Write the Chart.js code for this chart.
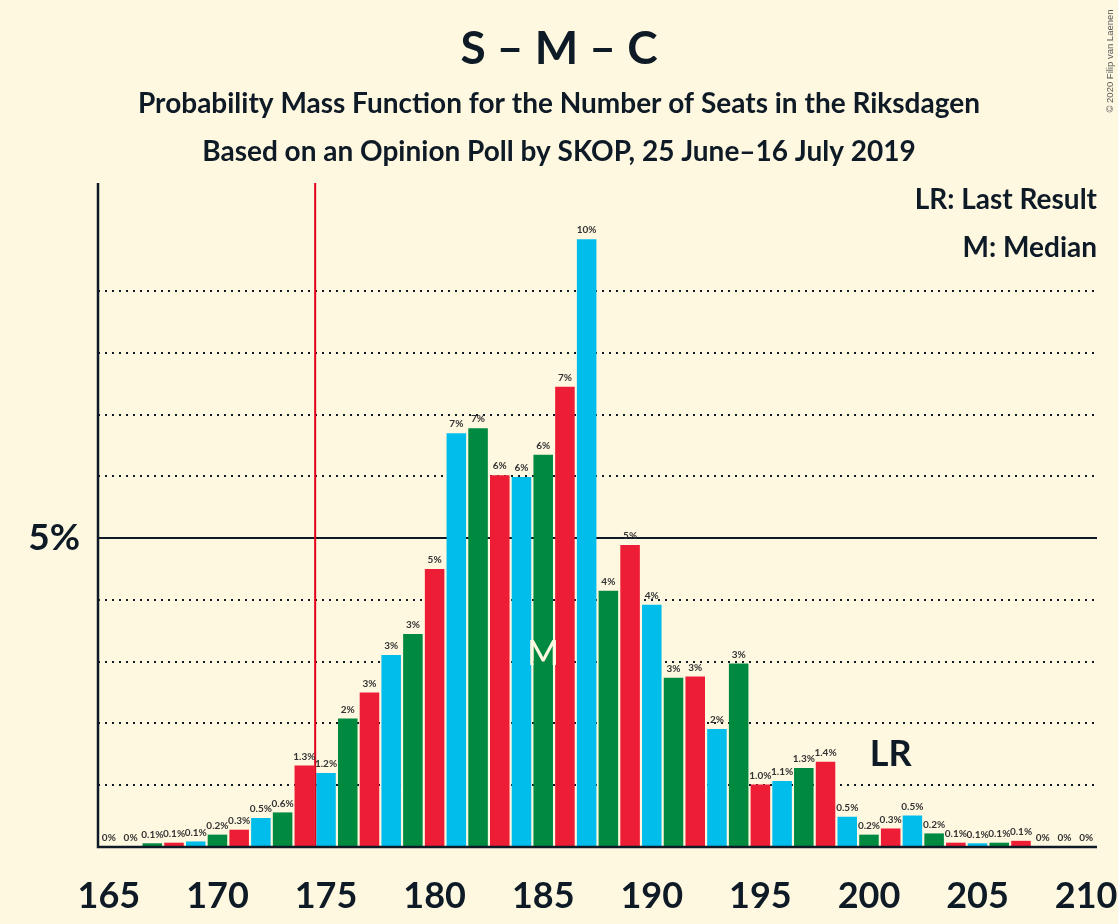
<!DOCTYPE html>
<html>
<head>
<meta charset="utf-8">
<title>S – M – C</title>
<script src="https://cdn.jsdelivr.net/npm/chart.js@4.4.0/dist/chart.umd.min.js"></script>
<style>
  html, body { margin: 0; padding: 0; background: #fff8e1; }
  #wrap { width: 1118px; height: 924px; position: relative; }
</style>
</head>
<body>
<div id="wrap"><canvas id="chart"></canvas></div>
<script>
// Seats and probability (%)
const seats = [
  165, 166, 167, 168, 169, 170, 171, 172, 173, 174,
  175, 176, 177, 178, 179, 180, 181, 182, 183, 184,
  185, 186, 187, 188, 189, 190, 191, 192, 193, 194,
  195, 196, 197, 198, 199, 200, 201, 202, 203, 204,
  205, 206, 207, 208, 209, 210
];
const probabilities = [
  0, 0, 0.06, 0.07, 0.09, 0.2, 0.28, 0.47, 0.56, 1.32,
  1.2, 2.08, 2.5, 3.11, 3.45, 4.5, 6.7, 6.78, 6.02, 5.99,
  6.35, 7.45, 9.84, 4.15, 4.89, 3.92, 2.74, 2.76, 1.91, 2.97,
  1.01, 1.07, 1.28, 1.38, 0.49, 0.2, 0.3, 0.51, 0.22, 0.07,
  0.06, 0.07, 0.1, 0, 0, 0
];
const xTickSeats = [165, 170, 175, 180, 185, 190, 195, 200, 205, 210];
const yTickValues = [5];
const dottedGridValues = [1, 2, 3, 4, 6, 7, 8, 9];
const majorityAfterSeat = 174;   // red line between 174 and 175
const medianSeat = 185;
const lastResultSeat = 201;

const titleText = 'S – M – C';
const subtitleLines = [
  'Probability Mass Function for the Number of Seats in the Riksdagen',
  'Based on an Opinion Poll by SKOP, 25 June–16 July 2019'
];
const legendLines = ['LR: Last Result', 'M: Median'];
const copyrightText = '© 2020 Filip van Laenen';

const INK = '#0e1a25';
const BG = '#fff8e1';
// colour by seat: S red, M blue, C green cycling
const partyColours = ['#ee1d36', '#00bdec', '#008a40'];

function barColour(seat) {
  return partyColours[seat % 3];
}

function formatPct(v) {
  if (v === 0) return '0%';
  if (v < 1.5) return v.toFixed(1) + '%';
  return Math.round(v) + '%';
}

const decorations = {
  id: 'decorations',
  beforeDraw(chart) {
    const ctx = chart.ctx;
    ctx.save();
    ctx.fillStyle = BG;
    ctx.fillRect(0, 0, chart.width, chart.height);
    ctx.restore();
  },
  beforeDatasetsDraw(chart) {
    const { ctx, chartArea, scales } = chart;
    ctx.save();
    // dotted grid lines
    ctx.strokeStyle = INK;
    ctx.lineWidth = 2;
    ctx.setLineDash([2, 5]);
    dottedGridValues.forEach(v => {
      const y = Math.round(scales.y.getPixelForValue(v));
      ctx.beginPath();
      ctx.moveTo(chartArea.left, y);
      ctx.lineTo(chartArea.right, y);
      ctx.stroke();
    });
    // solid line at 5%
    ctx.setLineDash([]);
    yTickValues.forEach(v => {
      const y = Math.round(scales.y.getPixelForValue(v));
      ctx.beginPath();
      ctx.moveTo(chartArea.left, y);
      ctx.lineTo(chartArea.right, y);
      ctx.stroke();
    });
    ctx.restore();
  },
  afterDatasetsDraw(chart) {
    const { ctx, chartArea, scales } = chart;
    const meta = chart.getDatasetMeta(0);
    ctx.save();

    // majority line
    const idx = seats.indexOf(majorityAfterSeat);
    const xm = scales.x.getPixelForValue(idx + 0.5);
    ctx.strokeStyle = '#e0001b';
    ctx.lineWidth = 2;
    ctx.beginPath();
    ctx.moveTo(xm, chartArea.top);
    ctx.lineTo(xm, chartArea.bottom);
    ctx.stroke();

    // axes
    ctx.strokeStyle = INK;
    ctx.lineWidth = 2.5;
    ctx.beginPath();
    ctx.moveTo(chartArea.left, chartArea.top);
    ctx.lineTo(chartArea.left, chartArea.bottom);
    ctx.lineTo(chartArea.right, chartArea.bottom);
    ctx.stroke();

    // value labels
    ctx.fillStyle = '#333';
    ctx.font = 'bold 10px Lato';
    ctx.textAlign = 'center';
    ctx.textBaseline = 'bottom';
    meta.data.forEach((bar, i) => {
      ctx.fillText(formatPct(probabilities[i]), bar.x, bar.y - 4);
    });

    // median marker
    const mi = seats.indexOf(medianSeat);
    const mBar = meta.data[mi];
    ctx.fillStyle = BG;
    ctx.font = '500 34px Lato';
    ctx.textBaseline = 'middle';
    ctx.fillText('M', mBar.x, scales.y.getPixelForValue(probabilities[mi] / 2) + 3);

    // last result marker
    const li = seats.indexOf(lastResultSeat);
    ctx.fillStyle = INK;
    ctx.font = 'bold 36px Lato';
    ctx.fillText('LR', meta.data[li].x, scales.y.getPixelForValue(1.5));

    // titles
    ctx.textAlign = 'center';
    ctx.font = 'bold 46px Lato';
    ctx.fillText(titleText, chart.width / 2, 49);
    ctx.font = 'bold 28px Lato';
    ctx.fillText(subtitleLines[0], chart.width / 2, 104);
    ctx.fillText(subtitleLines[1], chart.width / 2, 152);

    // legend notes
    ctx.textAlign = 'right';
    ctx.font = 'bold 28px Lato';
    ctx.fillText(legendLines[0], chartArea.right, 200);
    ctx.fillText(legendLines[1], chartArea.right, 248);

    // copyright
    ctx.translate(1110, 61);
    ctx.rotate(-Math.PI / 2);
    ctx.textAlign = 'center';
    ctx.fillStyle = '#555';
    ctx.font = '9.5px "Liberation Sans"';
    ctx.fillText(copyrightText, 0, 0);
    ctx.restore();
  }
};

new Chart(document.getElementById('chart'), {
  type: 'bar',
  data: {
    labels: seats,
    datasets: [{
      data: probabilities,
      backgroundColor: seats.map(barColour),
      borderWidth: 0,
      barPercentage: 0.9,
      categoryPercentage: 1
    }]
  },
  options: {
    responsive: true,
    maintainAspectRatio: false,
    animation: false,
    layout: { padding: { top: 183, right: 21, left: 0, bottom: 0 } },
    plugins: {
      legend: { display: false },
      tooltip: { enabled: false },
      title: { display: false }
    },
    scales: {
      x: {
        grid: { display: false },
        border: { display: false },
        ticks: {
          autoSkip: false,
          maxRotation: 0,
          padding: 20,
          color: INK,
          font: { family: 'Lato', size: 36, weight: 'bold' },
          callback(val, i) {
            return xTickSeats.includes(seats[i]) ? String(seats[i]) : '';
          }
        },
        afterFit(scale) {
          scale.height = 77;
          scale.paddingLeft = 0;
          scale.paddingRight = 0;
        }
      },
      y: {
        min: 0,
        max: 10.75,
        grid: { display: false },
        border: { display: false },
        afterBuildTicks(scale) {
          scale.ticks = yTickValues.map(v => ({ value: v }));
        },
        ticks: {
          padding: 10,
          color: INK,
          font: { family: 'Lato', size: 37, weight: 'bold' },
          callback: v => v + '%'
        },
        afterFit(scale) {
          scale.width = 98;
          scale.paddingTop = 0;
          scale.paddingBottom = 0;
        }
      }
    }
  },
  plugins: [decorations]
});
</script>
</body>
</html>
